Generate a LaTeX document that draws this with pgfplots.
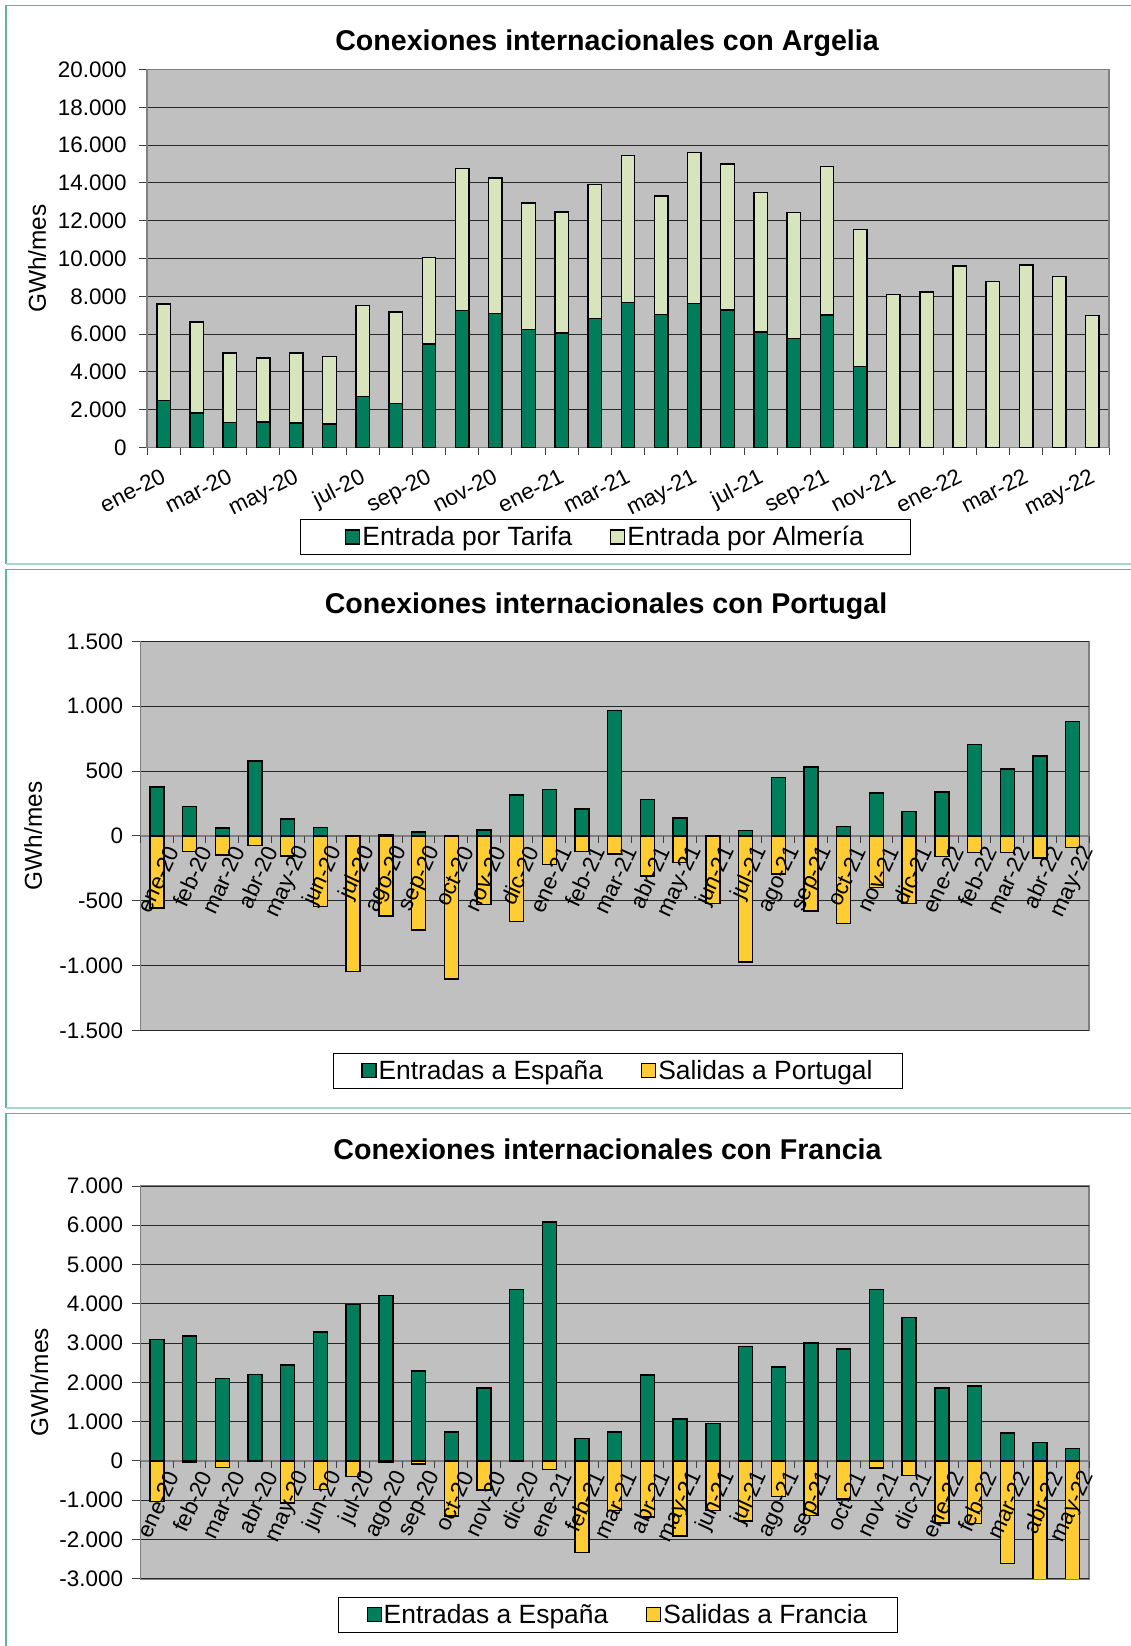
\documentclass[border=0pt]{standalone}
\usepackage{pgfplots}
\pgfplotsset{compat=1.18}
\usepackage{fontspec}
\setmainfont{Liberation Sans}
\definecolor{dgreen}{RGB}{0,125,90}
\definecolor{lgreen}{RGB}{216,228,188}
\definecolor{yel}{RGB}{255,204,51}
\definecolor{plotbg}{RGB}{192,192,192}
\definecolor{framec}{RGB}{96,182,148}
\definecolor{framel}{RGB}{170,214,198}
\definecolor{axgray}{RGB}{128,128,128}

\pgfplotsset{
 sqlegend/.style={/pgfplots/legend image code/.code={\draw[##1, line width=1.2bp] (0bp,-7bp) rectangle (14bp,7bp);}},
 base/.style={
   scale only axis, anchor=south west,
   xmin=-0.5, xmax=28.5, enlarge x limits=false,
   scaled y ticks=false,
   ymajorgrids, grid style={draw=black!85, line width=0.9bp},
   axis line style={draw=axgray, line width=1.8bp},
   major tick length=8bp, minor tick length=7bp,
   tick style={draw=black!75, line width=1bp},
   major x tick style={draw=none},
   tick label style={font=\fontsize{22.5}{26}\selectfont},
   yticklabel style={xshift=-6bp},
   legend style={draw=black, line width=1bp, font=\fontsize{26.5}{30}\selectfont,
     legend columns=2, /tikz/every even column/.append style={column sep=36bp},
     inner xsep=28bp, inner ysep=5bp, anchor=north},
 },
 gbar/.style={fill=#1, draw=black, line width=1.4bp},
 overlaylabels/.style={
   scale only axis, anchor=south west,
   xmin=-0.5, xmax=28.5, enlarge x limits=false,
   axis x line=middle, axis y line=none,
   x axis line style={draw=none},
   major x tick style={draw=none},
   minor xtick={-0.5,0.5,...,28.5},
   minor tick length=7bp, tick align=outside,
   minor x tick style={draw=black!75, line width=1bp},
   ytick=\empty,
   tick label style={font=\fontsize{22.5}{26}\selectfont},
   xtick={0,...,28},
   xticklabels={ene-20,feb-20,mar-20,abr-20,may-20,jun-20,jul-20,ago-20,sep-20,oct-20,nov-20,dic-20,ene-21,feb-21,mar-21,abr-21,may-21,jun-21,jul-21,ago-21,sep-21,oct-21,nov-21,dic-21,ene-22,feb-22,mar-22,abr-22,may-22},
   xticklabel style={rotate=65, anchor=east, inner sep=0pt, yshift=-18bp},
 },
}

\begin{document}
\begin{tikzpicture}
\useasboundingbox (0,0) rectangle (1131bp,-1646bp);
\fill[white] (0,0) rectangle (1131bp,-1646bp);
% frames
\draw[framec, line width=1.5bp] (6bp,-564bp) -- (6bp,-5.4bp) -- (1200bp,-5.4bp);
\draw[framel, line width=1.5bp] (6bp,-564bp) -- (1200bp,-564bp);
\draw[framec, line width=1.5bp] (6bp,-1108bp) -- (6bp,-569.3bp) -- (1200bp,-569.3bp);
\draw[framel, line width=1.5bp] (6bp,-1108bp) -- (1200bp,-1108bp);
\draw[framec, line width=1.5bp] (6bp,-1700bp) -- (6bp,-1113.6bp) -- (1200bp,-1113.6bp);

% ---------------- Argelia
\begin{axis}[base, at={(147bp,-447.5bp)}, width=962bp, height=378bp,
  axis background/.style={fill=plotbg},
  xtick pos=bottom, ytick pos=left,
  minor xtick={-0.5,0.5,...,28.5},
  ymin=0, ymax=20000, ybar stacked, bar width=13.5bp,
  every axis plot post/.append style={sqlegend},
  ytick={0,2000,...,20000},
  yticklabels={0,2.000,4.000,6.000,8.000,10.000,12.000,14.000,16.000,18.000,20.000},
  yticklabel style={xshift=-3bp},
  tick align=outside,
  xtick={0,2,...,28},
  xticklabels={ene-20,mar-20,may-20,jul-20,sep-20,nov-20,ene-21,mar-21,may-21,jul-21,sep-21,nov-21,ene-22,mar-22,may-22},
  xticklabel style={rotate=27, anchor=north east, inner sep=0pt, yshift=-9bp, xshift=-8.5bp},
  ylabel={GWh/mes},
  every axis y label/.style={at={(axis description cs:-0.1143,0.5)}, rotate=90, anchor=center, font=\fontsize{24.5}{28}\selectfont},
  legend style={at={(axis description cs:0.4766,-0.189)}, inner xsep=45bp},
]
\addplot[gbar=dgreen] coordinates {
(0,2480)(1,1830)(2,1320)(3,1360)(4,1300)(5,1250)(6,2700)(7,2340)(8,5480)(9,7240)
(10,7090)(11,6240)(12,6050)(13,6820)(14,7660)(15,7050)(16,7620)(17,7280)(18,6120)(19,5780)
(20,7010)(21,4290)(22,0)(23,0)(24,0)(25,0)(26,0)(27,0)(28,0)};
\addlegendentry{Entrada por Tarifa}
\addplot[gbar=lgreen] coordinates {
(0,5120)(1,4810)(2,3670)(3,3380)(4,3710)(5,3570)(6,4800)(7,4840)(8,4560)(9,7520)
(10,7180)(11,6690)(12,6410)(13,7090)(14,7800)(15,6260)(16,7990)(17,7730)(18,7380)(19,6640)
(20,7850)(21,7260)(22,8110)(23,8220)(24,9600)(25,8790)(26,9660)(27,9040)(28,7000)};
\addlegendentry{Entrada por Almería}
\end{axis}

% ---------------- Portugal
\begin{axis}[base, at={(140.5bp,-1030.4bp)}, width=948.5bp, height=389bp,
  axis x line=middle, axis y line=left,
  axis line style={-, draw=axgray, line width=1.8bp},
  axis background/.style={fill=plotbg, draw=axgray, line width=1.8bp},
  tick align=outside,
  ymin=-1500, ymax=1500, ybar, bar width=14bp,
  every axis plot post/.append style={sqlegend},
  ytick={-1500,-1000,...,1500},
  yticklabels={-1.500,-1.000,-500,0,500,1.000,1.500},
  xtick={0,...,28}, xticklabels={},
  ylabel={GWh/mes},
  every axis y label/.style={at={(axis description cs:-0.1133,0.5)}, rotate=90, anchor=center, font=\fontsize{24.5}{28}\selectfont},
  legend style={at={(axis description cs:0.5034,-0.058)}},
]
\addplot[gbar=dgreen, bar shift=0pt] coordinates {
(0,377)(1,228)(2,61)(3,578)(4,129)(5,63)(6,0)(7,11)(8,30)(9,0)
(10,47)(11,317)(12,358)(13,209)(14,969)(15,281)(16,138)(17,0)(18,44)(19,449)
(20,531)(21,74)(22,330)(23,187)(24,339)(25,707)(26,515)(27,617)(28,881)};
\addlegendentry{Entradas a España}
\addplot[gbar=yel, bar shift=0pt] coordinates {
(0,-556)(1,-118)(2,-146)(3,-72)(4,-154)(5,-545)(6,-1046)(7,-617)(8,-727)(9,-1104)
(10,-531)(11,-661)(12,-220)(13,-121)(14,-138)(15,-308)(16,-206)(17,-523)(18,-972)(19,-295)
(20,-578)(21,-677)(22,-396)(23,-520)(24,-157)(25,-129)(26,-129)(27,-171)(28,-88)};
\addlegendentry{Salidas a Portugal}
\end{axis}
\begin{axis}[overlaylabels, at={(140.5bp,-1030.4bp)}, width=948.5bp, height=389bp,
  ymin=-1500, ymax=1500]
\end{axis}

% ---------------- Francia
\begin{axis}[base, at={(140.5bp,-1578.7bp)}, width=948.5bp, height=392.7bp,
  axis x line=middle, axis y line=left,
  axis line style={-, draw=axgray, line width=1.8bp},
  axis background/.style={fill=plotbg, draw=axgray, line width=1.8bp},
  tick align=outside,
  ymin=-3000, ymax=7000, ybar, bar width=14bp,
  every axis plot post/.append style={sqlegend},
  ytick={-3000,-2000,...,7000},
  yticklabels={-3.000,-2.000,-1.000,0,1.000,2.000,3.000,4.000,5.000,6.000,7.000},
  xtick={0,...,28}, xticklabels={},
  ylabel={GWh/mes},
  every axis y label/.style={at={(axis description cs:-0.1065,0.5)}, rotate=90, anchor=center, font=\fontsize{24.5}{28}\selectfont},
  legend style={at={(axis description cs:0.5034,-0.0466)}},
]
\addplot[gbar=dgreen, bar shift=0pt] coordinates {
(0,3099)(1,3178)(2,2098)(3,2203)(4,2438)(5,3282)(6,3987)(7,4205)(8,2290)(9,731)
(10,1854)(11,4370)(12,6086)(13,575)(14,740)(15,2185)(16,1071)(17,949)(18,2917)(19,2394)
(20,3004)(21,2847)(22,4370)(23,3648)(24,1854)(25,1907)(26,714)(27,470)(28,322)};
\addlegendentry{Entradas a España}
\addplot[gbar=yel, bar shift=0pt] coordinates {
(0,-1036)(1,-35)(2,-165)(3,-17)(4,-1071)(5,-731)(6,-392)(7,-26)(8,-78)(9,-1402)
(10,-740)(11,-17)(12,-218)(13,-2325)(14,-1262)(15,-1428)(16,-1915)(17,-1262)(18,-1532)(19,-905)
(20,-1384)(21,-966)(22,-183)(23,-374)(24,-1585)(25,-1593)(26,-2612)(27,-3400)(28,-3300)};
\addlegendentry{Salidas a Francia}
\end{axis}
\begin{axis}[overlaylabels, at={(140.5bp,-1578.7bp)}, width=948.5bp, height=392.7bp,
  ymin=-3000, ymax=7000]
\end{axis}

% titles
\node[anchor=base, font=\fontsize{28.7}{34}\selectfont\bfseries] at (607bp,-50bp) {Conexiones internacionales con Argelia};
\node[anchor=base, font=\fontsize{28.7}{34}\selectfont\bfseries] at (606bp,-613.6bp) {Conexiones internacionales con Portugal};
\node[anchor=base, font=\fontsize{28.7}{34}\selectfont\bfseries] at (607.5bp,-1159.6bp) {Conexiones internacionales con Francia};
\end{tikzpicture}
\end{document}
